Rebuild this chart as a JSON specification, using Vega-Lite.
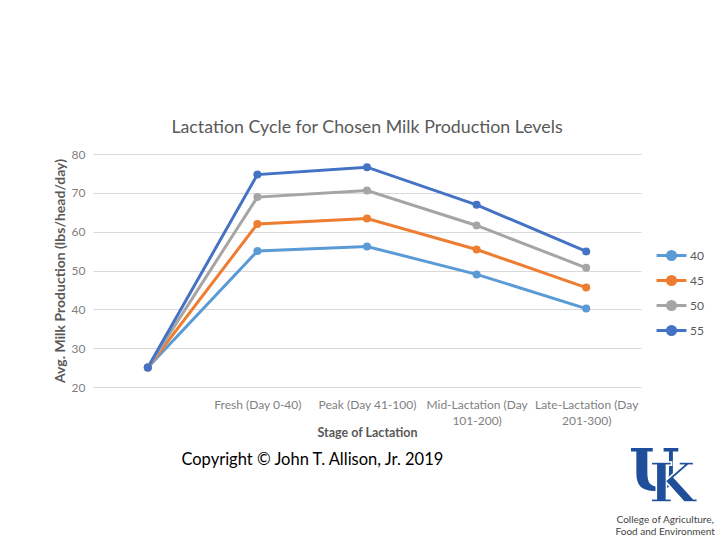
{
  "$schema": "https://vega.github.io/schema/vega-lite/v6.json",
  "width": 548,
  "height": 233,
  "autosize": {"type": "none"},
  "padding": {"left": 93, "top": 154, "right": 79, "bottom": 153},
  "background": "white",
  "title": {
    "text": "Lactation Cycle for Chosen Milk Production Levels",
    "font": "Lato",
    "fontSize": 17.8,
    "fontWeight": "normal",
    "color": "#595959",
    "anchor": "middle",
    "offset": 11
  },
  "config": {"font": "Lato", "view": {"stroke": null}},
  "layer": [
    {
      "data": {
        "values": [
          {"stage": "Start", "level": "40", "production": 25},
          {"stage": "Fresh (Day 0-40)", "level": "40", "production": 55.0},
          {"stage": "Peak (Day 41-100)", "level": "40", "production": 56.2},
          {"stage": "Mid-Lactation (Day 101-200)", "level": "40", "production": 49.0},
          {"stage": "Late-Lactation (Day 201-300)", "level": "40", "production": 40.2},
          {"stage": "Start", "level": "45", "production": 25},
          {"stage": "Fresh (Day 0-40)", "level": "45", "production": 62.0},
          {"stage": "Peak (Day 41-100)", "level": "45", "production": 63.4},
          {"stage": "Mid-Lactation (Day 101-200)", "level": "45", "production": 55.4},
          {"stage": "Late-Lactation (Day 201-300)", "level": "45", "production": 45.6},
          {"stage": "Start", "level": "50", "production": 25},
          {"stage": "Fresh (Day 0-40)", "level": "50", "production": 68.9},
          {"stage": "Peak (Day 41-100)", "level": "50", "production": 70.6},
          {"stage": "Mid-Lactation (Day 101-200)", "level": "50", "production": 61.6},
          {"stage": "Late-Lactation (Day 201-300)", "level": "50", "production": 50.7},
          {"stage": "Start", "level": "55", "production": 25},
          {"stage": "Fresh (Day 0-40)", "level": "55", "production": 74.7},
          {"stage": "Peak (Day 41-100)", "level": "55", "production": 76.6},
          {"stage": "Mid-Lactation (Day 101-200)", "level": "55", "production": 66.9},
          {"stage": "Late-Lactation (Day 201-300)", "level": "55", "production": 54.9}
        ]
      },
      "mark": {"type": "line", "strokeWidth": 3, "clip": false, "point": {"filled": true, "size": 64}},
      "encoding": {
        "x": {
          "field": "stage",
          "type": "ordinal",
          "sort": ["Start", "Fresh (Day 0-40)", "Peak (Day 41-100)", "Mid-Lactation (Day 101-200)", "Late-Lactation (Day 201-300)"],
          "axis": {
            "title": "Stage of Lactation",
            "titleFont": "Lato",
            "titleFontSize": 12.5,
            "titleFontWeight": "bold",
            "titleColor": "#595959",
            "titlePadding": 0,
            "labelFont": "Lato",
            "labelFontSize": 12,
            "labelColor": "#7F7F7F",
            "labelAngle": 0,
            "labelPadding": 12,
            "labelLineHeight": 16,
            "labelLimit": 0,
            "domain": false,
            "ticks": false,
            "grid": false,
            "labelExpr": "datum.value == 'Start' ? '' : datum.value == 'Mid-Lactation (Day 101-200)' ? ['Mid-Lactation (Day', '101-200)'] : datum.value == 'Late-Lactation (Day 201-300)' ? ['Late-Lactation (Day', '201-300)'] : datum.label"
          }
        },
        "y": {
          "field": "production",
          "type": "quantitative",
          "scale": {"domain": [20, 80]},
          "axis": {
            "title": "Avg. Milk Production (lbs/head/day)",
            "titleFont": "Lato",
            "titleFontSize": 14,
            "titleFontWeight": "bold",
            "titleColor": "#595959",
            "titlePadding": 4,
            "labelFont": "Lato",
            "labelFontSize": 12,
            "labelColor": "#7F7F7F",
            "labelPadding": 8,
            "labelOverlap": false,
            "values": [20, 30, 40, 50, 60, 70, 80],
            "tickCount": 7,
            "domain": false,
            "ticks": false,
            "gridColor": "#D9D9D9",
            "gridWidth": 1
          }
        },
        "color": {
          "field": "level",
          "type": "nominal",
          "scale": {"domain": ["40", "45", "50", "55"], "range": ["#5B9BD5", "#ED7D31", "#A5A5A5", "#4472C4"]},
          "legend": {
            "title": null,
            "orient": "none",
            "legendX": 564,
            "legendY": 87,
            "padding": 0,
            "symbolType": "M-1.15,0L1.15,0M0.31,0A0.31,0.31,0,1,1,-0.31,0A0.31,0.31,0,1,1,0.31,0Z",
            "symbolSize": 676,
            "symbolStrokeWidth": 3,
            "labelFont": "Lato",
            "labelFontSize": 12,
            "labelColor": "#595959",
            "labelOffset": 4,
            "rowPadding": 0,
            "encode": {
              "symbols": {
                "update": {
                  "fill": {"scale": "color", "field": "value"},
                  "stroke": {"scale": "color", "field": "value"}
                }
              }
            }
          }
        }
      }
    },
    {
      "data": {"values": [{"note": "Copyright © John T. Allison, Jr. 2019"}]},
      "mark": {"type": "text", "align": "left", "baseline": "middle", "font": "Lato", "fontSize": 16.5, "color": "#000000", "dx": -76, "dy": -5, "clip": false},
      "encoding": {
        "x": {"datum": "Fresh (Day 0-40)", "type": "ordinal"},
        "y": {"datum": 0, "type": "quantitative"},
        "text": {"field": "note"}
      }
    },
    {
      "data": {"values": [{"glyph": "U"}]},
      "mark": {"type": "text", "align": "center", "baseline": "alphabetic", "font": "DejaVu Serif", "fontWeight": "bold", "fontSize": 58, "color": "#1F4E9B", "dx": 68, "dy": 25, "clip": false},
      "encoding": {
        "x": {"datum": "Late-Lactation (Day 201-300)", "type": "ordinal"},
        "y": {"datum": 0, "type": "quantitative"},
        "text": {"field": "glyph"}
      }
    },
    {
      "data": {"values": [{"glyph": "K"}]},
      "mark": {"type": "text", "align": "center", "baseline": "alphabetic", "font": "DejaVu Serif", "fontWeight": "bold", "fontSize": 54, "color": "#1F4E9B", "stroke": "white", "strokeWidth": 1.5, "dx": 86, "dy": 37, "clip": false},
      "encoding": {
        "x": {"datum": "Late-Lactation (Day 201-300)", "type": "ordinal"},
        "y": {"datum": 0, "type": "quantitative"},
        "text": {"field": "glyph"}
      }
    },
    {
      "data": {"values": [{"line1": "College of Agriculture,", "line2": "Food and Environment"}]},
      "mark": {"type": "text", "align": "center", "baseline": "middle", "font": "Lato", "fontSize": 10, "color": "#444444", "lineHeight": 12, "dx": 79, "dy": 55, "clip": false},
      "encoding": {
        "x": {"datum": "Late-Lactation (Day 201-300)", "type": "ordinal"},
        "y": {"datum": 0, "type": "quantitative"},
        "text": {"value": ["College of Agriculture,", "Food and Environment"]}
      }
    }
  ]
}
